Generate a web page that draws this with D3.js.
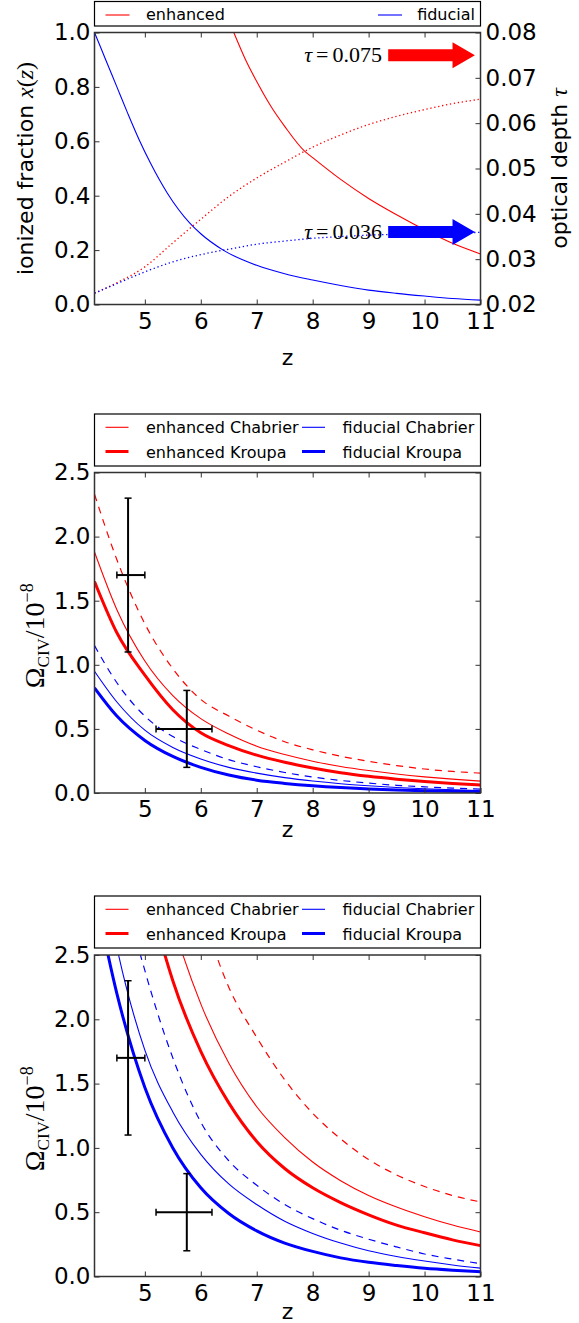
<!DOCTYPE html>
<html><head><meta charset="utf-8">
<script src="https://cdn.jsdelivr.net/npm/d3@7"></script>
<style>body{margin:0;background:#fff}svg{display:block}</style>
</head><body><svg id="c" width="579" height="1323"></svg>
<script>
// ---------------- DATA ----------------
const zDomain = [4.1, 11];
const zTicks = [5, 6, 7, 8, 9, 10, 11];

// top panel: ionized fraction x(z)
const xfracEnhZ = [6.59, 6.8, 7.0, 7.25, 7.5, 7.85, 8.0, 8.5, 9.0, 9.5, 10.0, 10.5, 11.0];
const xfracEnh  = [1.0, 0.90, 0.82, 0.73, 0.655, 0.565, 0.54, 0.46, 0.39, 0.33, 0.275, 0.225, 0.186];
const xfracFidZ = [4.1, 4.3, 4.5, 4.7, 4.9, 5.1, 5.4, 5.8, 6.0, 6.4, 7.0, 7.5, 8.0, 8.5, 9.0, 9.5, 10.0, 10.5, 11.0];
const xfracFid  = [1.0, 0.90, 0.80, 0.70, 0.605, 0.52, 0.41, 0.30, 0.26, 0.20, 0.144, 0.113, 0.09, 0.07, 0.053, 0.041, 0.031, 0.022, 0.016];
// top panel: optical depth tau(z)
const tauZ   = [4.1, 4.5, 5, 5.5, 6, 6.5, 7, 7.5, 8, 8.5, 9, 9.5, 10, 10.5, 11];
const tauEnh = [0.0225, 0.0248, 0.0283, 0.0336, 0.0388, 0.0438, 0.0479, 0.0514, 0.0547, 0.0574, 0.0597, 0.0615, 0.0630, 0.0643, 0.0653];
const tauFid = [0.0225, 0.0246, 0.0272, 0.0294, 0.0310, 0.0322, 0.0333, 0.0340, 0.0346, 0.0350, 0.0353, 0.0355, 0.0357, 0.0358, 0.0359];
const fracTicks = [0, 0.2, 0.4, 0.6, 0.8, 1.0];
const tauTicks = [0.02, 0.03, 0.04, 0.05, 0.06, 0.07, 0.08];
const tauLabels = ["τ=0.075", "τ=0.036"];
const tauArrowValues = [0.075, 0.036];
const arrowTailZ = 9.35, arrowHeadZ = 10.5, arrowTipZ = 10.9, arrowTextZ = 9.24;

// Omega_CIV panels
const zGrid = [4.1, 4.5, 5, 5.5, 6, 6.5, 7, 7.5, 8, 8.5, 9, 9.5, 10, 10.5, 11];
const midEnhChab = [1.88, 1.43, 1.03, 0.76, 0.58, 0.46, 0.365, 0.30, 0.248, 0.207, 0.175, 0.148, 0.126, 0.108, 0.093];
const midEnhKrou = [1.65, 1.25, 0.92, 0.65, 0.47, 0.37, 0.295, 0.24, 0.195, 0.158, 0.13, 0.108, 0.09, 0.075, 0.063];
const midEnhDash = [2.33, 1.82, 1.32, 0.97, 0.73, 0.60, 0.49, 0.40, 0.337, 0.287, 0.247, 0.214, 0.187, 0.168, 0.155];
const midFidChab = [0.95, 0.71, 0.49, 0.355, 0.265, 0.20, 0.155, 0.12, 0.093, 0.072, 0.056, 0.043, 0.033, 0.025, 0.018];
const midFidKrou = [0.82, 0.60, 0.41, 0.285, 0.20, 0.14, 0.10, 0.075, 0.056, 0.042, 0.032, 0.024, 0.018, 0.014, 0.0105];
const midFidDash = [1.15, 0.86, 0.60, 0.44, 0.34, 0.26, 0.205, 0.16, 0.125, 0.098, 0.077, 0.06, 0.048, 0.038, 0.030];

const botEnhChab = [6.2, 4.9, 3.6, 2.75, 2.12, 1.66, 1.32, 1.08, 0.89, 0.745, 0.63, 0.54, 0.465, 0.40, 0.346];
const botEnhKrou = [5.3, 4.2, 3.1, 2.3, 1.75, 1.35, 1.05, 0.84, 0.69, 0.575, 0.48, 0.40, 0.34, 0.285, 0.24];
const botEnhDash = [7.0, 5.7, 4.5, 3.55, 2.85, 2.25, 1.86, 1.53, 1.27, 1.07, 0.91, 0.79, 0.70, 0.63, 0.58];
const botFidChab = [3.5, 2.56, 1.76, 1.28, 0.95, 0.72, 0.56, 0.43, 0.335, 0.26, 0.20, 0.155, 0.12, 0.09, 0.065];
const botFidKrou = [3.0, 2.2, 1.47, 1.0, 0.69, 0.49, 0.355, 0.26, 0.195, 0.145, 0.11, 0.085, 0.064, 0.049, 0.037];
const botFidDash = [4.4, 3.25, 2.38, 1.70, 1.2, 0.90, 0.71, 0.56, 0.45, 0.36, 0.29, 0.23, 0.175, 0.135, 0.10];

const omegaTicks = [0, 0.5, 1.0, 1.5, 2.0, 2.5];
// observations: z, zlo, zhi, omega, omegalo, omegahi
const obsZ = [4.7, 5.75];
const obsZlo = [4.5, 5.2];
const obsZhi = [5.0, 6.2];
const obsOmega = [1.7, 0.5];
const obsOmegaLo = [1.1, 0.2];
const obsOmegaHi = [2.3, 0.8];

const topLegend = ["enhanced", "fiducial"];
const lowLegend = ["enhanced Chabrier", "fiducial Chabrier", "enhanced Kroupa", "fiducial Kroupa"];

// ---------------- DRAWING ----------------
const svg = d3.select("#c");
const SANS = "DejaVu Sans, Verdana, sans-serif";
const SERIF = "Liberation Serif, DejaVu Serif, serif";
const RED = "#ff0000", BLUE = "#0000ff", SPINE = "#333";
const X0 = 94.5, X1 = 480.5;
let clipId = 0;

function frame(g, x, y) {
  g.append("rect").attr("x", X0).attr("y", y.range()[1])
    .attr("width", X1 - X0).attr("height", y.range()[0] - y.range()[1])
    .attr("fill", "none").attr("stroke", SPINE).attr("stroke-width", 1.5);
}
function styleAxis(a, fs) {
  a.select(".domain").remove();
  a.selectAll(".tick line").attr("stroke", SPINE).attr("stroke-width", 1);
  a.selectAll(".tick text").style("font-family", SANS).style("font-size", fs + "px").attr("fill", "#000");
}
function xAxes(g, x, y, ticks) {
  const b = g.append("g").attr("transform", `translate(0,${y.range()[0]})`)
    .call(d3.axisBottom(x).tickValues(ticks).tickFormat(d3.format("d")).tickSizeInner(-5).tickSizeOuter(0).tickPadding(8));
  styleAxis(b, 23);
  const t = g.append("g").attr("transform", `translate(0,${y.range()[1]})`)
    .call(d3.axisTop(x).tickValues(ticks.filter(d => d < 11)).tickFormat("").tickSizeInner(-5).tickSizeOuter(0));
  styleAxis(t, 23);
}
function clip(g, y) {
  const id = "clip" + (clipId++);
  g.append("clipPath").attr("id", id).append("rect")
    .attr("x", X0).attr("y", y.range()[1]).attr("width", X1 - X0).attr("height", y.range()[0] - y.range()[1]);
  return g.append("g").attr("clip-path", `url(#${id})`);
}
function addLine(cg, xs, ys, x, y, color, w, dash) {
  const line = d3.line().x((d, i) => x(xs[i])).y(d => y(d)).curve(d3.curveMonotoneX);
  cg.append("path").datum(ys).attr("d", line).attr("fill", "none")
    .attr("stroke", color).attr("stroke-width", w).attr("stroke-dasharray", dash || null)
    .attr("stroke-linecap", "butt");
}

// ===== TOP PANEL =====
(function () {
  const g = svg.append("g");
  const x = d3.scaleLinear().domain(zDomain).range([X0, X1]);
  const y = d3.scaleLinear().domain([0, 1]).range([304.5, 32.5]);
  const yt = d3.scaleLinear().domain([0.02, 0.08]).range([304.5, 32.5]);

  const cg = clip(g, y);
  addLine(cg, xfracEnhZ, xfracEnh, x, y, RED, 1.1);
  addLine(cg, xfracFidZ, xfracFid, x, y, BLUE, 1.1);
  addLine(cg, tauZ, tauEnh, x, yt, RED, 1.3, "1.3,2.7");
  addLine(cg, tauZ, tauFid, x, yt, BLUE, 1.3, "1.3,2.7");

  // arrows and labels
  [RED, BLUE].forEach((c, i) => {
    const yc = yt(tauArrowValues[i]);
    const p = d3.path();
    p.moveTo(x(arrowTailZ), yc - 6);
    p.lineTo(x(arrowHeadZ), yc - 6);
    p.lineTo(x(arrowHeadZ), yc - 13);
    p.lineTo(x(arrowTipZ), yc);
    p.lineTo(x(arrowHeadZ), yc + 13);
    p.lineTo(x(arrowHeadZ), yc + 6);
    p.lineTo(x(arrowTailZ), yc + 6);
    p.closePath();
    g.append("path").attr("d", p.toString()).attr("fill", c);
    const t = g.append("text").attr("x", x(arrowTextZ)).attr("y", yc + 7).attr("text-anchor", "end")
      .style("font-family", SERIF).style("font-size", "22px");
    const parts = tauLabels[i].split("=");
    t.append("tspan").style("font-style", "italic").text(parts[0]);
    t.append("tspan").attr("dx", 4).text("=");
    t.append("tspan").attr("dx", 4).text(parts[1]);
  });

  frame(g, x, y);
  xAxes(g, x, y, zTicks);
  const l = g.append("g").attr("transform", `translate(${X0},0)`)
    .call(d3.axisLeft(y).tickValues(fracTicks).tickFormat(d3.format(".1f")).tickSizeInner(-5).tickSizeOuter(0).tickPadding(4));
  styleAxis(l, 23);
  const r = g.append("g").attr("transform", `translate(${X1},0)`)
    .call(d3.axisRight(yt).tickValues(tauTicks).tickFormat(d3.format(".2f")).tickSizeInner(-5).tickSizeOuter(0).tickPadding(5));
  styleAxis(r, 23);

  // axis labels
  g.append("text").attr("x", (X0 + X1) / 2).attr("y", 365).attr("text-anchor", "middle")
    .style("font-family", SANS).style("font-size", "22px").text("z");
  const yl = g.append("text").attr("transform", `translate(33,${(304.5 + 32.5) / 2}) rotate(-90)`)
    .attr("text-anchor", "middle").style("font-family", SANS).style("font-size", "22px");
  yl.append("tspan").text("ionized fraction ");
  yl.append("tspan").style("font-family", SERIF).style("font-style", "italic").style("font-size", "24px").text("x");
  yl.append("tspan").style("font-family", SERIF).style("font-size", "24px").text("(");
  yl.append("tspan").style("font-family", SERIF).style("font-style", "italic").style("font-size", "24px").text("z");
  yl.append("tspan").style("font-family", SERIF).style("font-size", "24px").text(")");
  const yr = g.append("text").attr("transform", `translate(567,${(304.5 + 32.5) / 2}) rotate(-90)`)
    .attr("text-anchor", "middle").style("font-family", SANS).style("font-size", "22px");
  yr.append("tspan").text("optical depth ");
  yr.append("tspan").style("font-family", SERIF).style("font-style", "italic").style("font-size", "24px").text("τ");

  // legend
  g.append("rect").attr("x", X0).attr("y", 1.5).attr("width", X1 - X0).attr("height", 24.5)
    .attr("fill", "#fff").attr("stroke", "#000").attr("stroke-width", 1.2);
  [[RED, 105.5, 146, "start"], [BLUE, 378, 475, "end"]].forEach((d, i) => {
    g.append("line").attr("x1", d[1]).attr("x2", d[1] + 24).attr("y1", 15).attr("y2", 15)
      .attr("stroke", d[0]).attr("stroke-width", 1.1);
    g.append("text").attr("x", d[2]).attr("y", 20).attr("text-anchor", d[3])
      .style("font-family", SANS).style("font-size", "16px").text(topLegend[i]);
  });
})();

// ===== OMEGA PANELS =====
function omegaPanel(top, bottom, legTop, zLabelY, series) {
  const g = svg.append("g");
  const x = d3.scaleLinear().domain(zDomain).range([X0, X1]);
  const y = d3.scaleLinear().domain([0, 2.5]).range([bottom, top]);
  const cg = clip(g, y);
  const s = series;
  addLine(cg, zGrid, s[2], x, y, RED, 1.2, "7,6");
  addLine(cg, zGrid, s[5], x, y, BLUE, 1.2, "7,6");
  addLine(cg, zGrid, s[0], x, y, RED, 1.1);
  addLine(cg, zGrid, s[1], x, y, RED, 3);
  addLine(cg, zGrid, s[3], x, y, BLUE, 1.1);
  addLine(cg, zGrid, s[4], x, y, BLUE, 3);

  // error bars
  obsZ.forEach((zz, i) => {
    const eb = g.append("g").attr("stroke", "#000").attr("stroke-width", 2);
    eb.append("line").attr("x1", x(obsZlo[i])).attr("x2", x(obsZhi[i])).attr("y1", y(obsOmega[i])).attr("y2", y(obsOmega[i]));
    eb.append("line").attr("x1", x(zz)).attr("x2", x(zz)).attr("y1", y(obsOmegaLo[i])).attr("y2", y(obsOmegaHi[i]));
    [obsOmegaLo[i], obsOmegaHi[i]].forEach(v => eb.append("line").attr("x1", x(zz) - 3.5).attr("x2", x(zz) + 3.5).attr("y1", y(v)).attr("y2", y(v)).attr("stroke-width", 1.5));
    [obsZlo[i], obsZhi[i]].forEach(v => eb.append("line").attr("x1", x(v)).attr("x2", x(v)).attr("y1", y(obsOmega[i]) - 3.5).attr("y2", y(obsOmega[i]) + 3.5).attr("stroke-width", 1.5));
  });

  frame(g, x, y);
  xAxes(g, x, y, zTicks);
  const l = g.append("g").attr("transform", `translate(${X0},0)`)
    .call(d3.axisLeft(y).tickValues(omegaTicks).tickFormat(d3.format(".1f")).tickSizeInner(-5).tickSizeOuter(0).tickPadding(4));
  styleAxis(l, 23);
  const r = g.append("g").attr("transform", `translate(${X1},0)`)
    .call(d3.axisRight(y).tickValues(omegaTicks).tickFormat("").tickSizeInner(-5).tickSizeOuter(0));
  styleAxis(r, 23);

  g.append("text").attr("x", (X0 + X1) / 2).attr("y", zLabelY).attr("text-anchor", "middle")
    .style("font-family", SANS).style("font-size", "22px").text("z");
  const yl = g.append("text").attr("transform", `translate(44,${(top + bottom) / 2 + 3}) rotate(-90)`)
    .attr("text-anchor", "middle").style("font-family", SERIF).style("font-size", "28px");
  yl.append("tspan").text("Ω");
  yl.append("tspan").attr("dy", 5).style("font-size", "17px").text("CIV");
  yl.append("tspan").attr("dy", -5).text("/10");
  yl.append("tspan").attr("dy", -11).style("font-size", "18px").text("−8");

  // legend
  g.append("rect").attr("x", X0).attr("y", legTop).attr("width", X1 - X0).attr("height", 52)
    .attr("fill", "#fff").attr("stroke", "#000").attr("stroke-width", 1.2);
  const rows = [
    [RED, 1.1, 105.5, 146, 0], [BLUE, 1.1, 302, 342.6, 0],
    [RED, 3, 105.5, 146, 1], [BLUE, 3, 302, 342.6, 1]
  ];
  rows.forEach((d, i) => {
    const yy = legTop + 13.3 + d[4] * 24.2;
    g.append("line").attr("x1", d[2]).attr("x2", d[2] + 23).attr("y1", yy).attr("y2", yy)
      .attr("stroke", d[0]).attr("stroke-width", d[1]);
    g.append("text").attr("x", d[3]).attr("y", yy + 6).style("font-family", SANS).style("font-size", "16px")
      .text(lowLegend[i]);
  });
}
omegaPanel(472.5, 793, 414, 837, [midEnhChab, midEnhKrou, midEnhDash, midFidChab, midFidKrou, midFidDash]);
omegaPanel(955, 1276.5, 896, 1319, [botEnhChab, botEnhKrou, botEnhDash, botFidChab, botFidKrou, botFidDash]);
</script></body></html>
